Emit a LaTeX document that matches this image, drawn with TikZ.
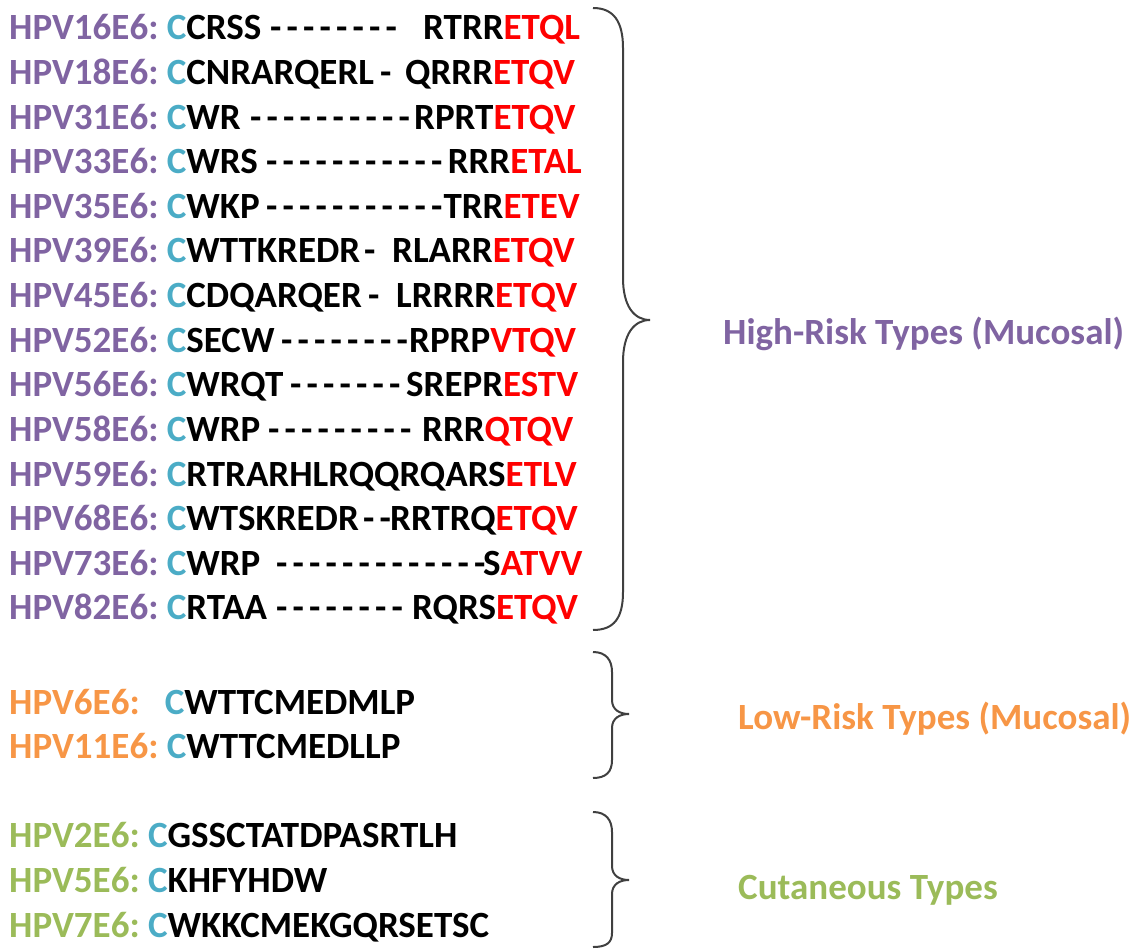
\documentclass[tikz,border=0pt]{standalone}
\usepackage{fontspec}
\setmainfont{Carlito}
\definecolor{hpurple}{HTML}{8064A2}
\definecolor{hcyan}{HTML}{4BACC6}
\definecolor{hred}{HTML}{FF0000}
\definecolor{horange}{HTML}{F79646}
\definecolor{hgreen}{HTML}{9BBB59}
\definecolor{braceGray}{HTML}{404040}
\newcommand\dashrun[1]{\foreach \k in {1,...,#1}{\makebox[16.5pt][l]{-}}}
\newcommand\hlab[2]{\textcolor{hpurple}{#1}\ \textcolor{hcyan}{C}#2}
\begin{document}
\begin{tikzpicture}[x=1pt,y=-1pt,
  txt/.style={anchor=base west, inner sep=0pt, font=\fontsize{37}{40}\selectfont\bfseries},
  txte/.style={txt, anchor=base east},
  brace/.style={draw=braceGray, line width=2pt}]
\useasboundingbox (0,0) rectangle (1147,949);
% High-risk rows (baseline y = 40 + 44.6 i)
\node[txt] (l16) at (9,40) {\hlab{HPV16E6:}{CRSS}};
\node[txt] (d16) at (270,40) {\dashrun{8}};
\node[txt] (r16) at (423,40) {RTRR\textcolor{hred}{ETQL}};

\node[txt] (l18) at (9,84.6) {\hlab{HPV18E6:}{CNRARQERL}};
\node[txt] (d18) at (380,84.6) {\dashrun{1}};
\node[txt] (r18) at (405,84.6) {QRRR\textcolor{hred}{ETQV}};

\node[txt] (l31) at (9,129.2) {\hlab{HPV31E6:}{WR}};
\node[txt] (d31) at (250,129.2) {\dashrun{10}};
\node[txt] (r31) at (414,129.2) {RPRT\textcolor{hred}{ETQV}};

\node[txt] (l33) at (9,173.8) {\hlab{HPV33E6:}{WRS}};
\node[txt] (d33) at (266,173.8) {\dashrun{11}};
\node[txte] (r33) at (582,173.8) {RRR\textcolor{hred}{ETAL}};

\node[txt] (l35) at (9,218.4) {\hlab{HPV35E6:}{WKP}};
\node[txt] (d35) at (266,218.4) {\dashrun{11}};
\node[txte] (r35) at (580,218.4) {TRR\textcolor{hred}{ETEV}};

\node[txt] (l39) at (9,263) {\hlab{HPV39E6:}{WTTKREDR}};
\node[txt] (d39) at (364,263) {\dashrun{1}};
\node[txt] (r39) at (392,263) {RLARR\textcolor{hred}{ETQV}};

\node[txt] (l45) at (9,307.6) {\hlab{HPV45E6:}{CDQARQER}};
\node[txt] (d45) at (368,307.6) {\dashrun{1}};
\node[txt] (r45) at (396,307.6) {LRRRR\textcolor{hred}{ETQV}};

\node[txt] (l52) at (9,352.2) {\hlab{HPV52E6:}{SECW}};
\node[txt] (d52) at (281,352.2) {\dashrun{8}};
\node[txt] (r52) at (409,352.2) {RPRP\textcolor{hred}{VTQV}};

\node[txt] (l56) at (9,396.8) {\hlab{HPV56E6:}{WRQT}};
\node[txt] (d56) at (290,396.8) {\dashrun{7}};
\node[txt] (r56) at (406,396.8) {SREPR\textcolor{hred}{ESTV}};

\node[txt] (l58) at (9,441.4) {\hlab{HPV58E6:}{WRP}};
\node[txt] (d58) at (268,441.4) {\dashrun{9}};
\node[txt] (r58) at (422,441.4) {RRR\textcolor{hred}{QTQV}};

\node[txt] (l59) at (9,486) {\hlab{HPV59E6:}{RTRARHLRQQRQARS\textcolor{hred}{ETLV}}};

\node[txt] (l68) at (9,530.6) {\hlab{HPV68E6:}{WTSKREDR}};
\node[txt] (d68) at (363,530.6) {\dashrun{2}};
\node[txt] (r68) at (390,530.6) {RRTRQ\textcolor{hred}{ETQV}};

\node[txt] (l73) at (9,575.2) {\hlab{HPV73E6:}{WRP}};
\node[txt] (d73) at (276,575.2) {\dashrun{13}};
\node[txt] (r73) at (483,575.2) {S\textcolor{hred}{ATVV}};

\node[txt] (l82) at (9,619.8) {\hlab{HPV82E6:}{RTAA}};
\node[txt] (d82) at (276,619.8) {\dashrun{8}};
\node[txt] (r82) at (412,619.8) {RQRS\textcolor{hred}{ETQV}};

% Low-risk rows
\node[txt] (l6) at (9,714) {\textcolor{horange}{HPV6E6:}\ \ \ \textcolor{hcyan}{C}WTTCMEDMLP};
\node[txt] (l11) at (9,758) {\textcolor{horange}{HPV11E6:}\ \textcolor{hcyan}{C}WTTCMEDLLP};

% Cutaneous rows
\node[txt] (l2) at (9,847) {\textcolor{hgreen}{HPV2E6:}\ \textcolor{hcyan}{C}GSSCTATDPASRTLH};
\node[txt] (l5) at (9,892) {\textcolor{hgreen}{HPV5E6:}\ \textcolor{hcyan}{C}KHFYHDW};
\node[txt] (l7) at (9,937) {\textcolor{hgreen}{HPV7E6:}\ \textcolor{hcyan}{C}WKKCMEKGQRSETSC};

% Braces
\draw[brace] (593,8) .. controls (614,8) and (623,22) .. (623,48) -- (623,278)
  .. controls (623,306) and (634,320) .. (650,320)
  .. controls (634,320) and (623,334) .. (623,362) -- (623,592)
  .. controls (623,618) and (614,630) .. (593,630);
\draw[brace] (593,652) .. controls (606,652) and (612,660) .. (612,672) -- (612,700)
  .. controls (612,710) and (620,714) .. (629,714)
  .. controls (620,714) and (612,718) .. (612,728) -- (612,760)
  .. controls (612,772) and (606,778) .. (593,778);
\draw[brace] (593,812) .. controls (606,812) and (612,820) .. (612,832) -- (612,866)
  .. controls (612,876) and (620,880) .. (629,880)
  .. controls (620,880) and (612,884) .. (612,894) -- (612,933)
  .. controls (612,943) and (606,947) .. (593,947);

% Group labels
\node[txt, text=hpurple] (hi) at (723,344) {High-Risk Types (Mucosal)};
\node[txt, text=horange] (lo) at (738,729) {Low-Risk Types (Mucosal)};
\node[txt, text=hgreen] (cu) at (738,899) {Cutaneous Types};
\end{tikzpicture}
\end{document}
